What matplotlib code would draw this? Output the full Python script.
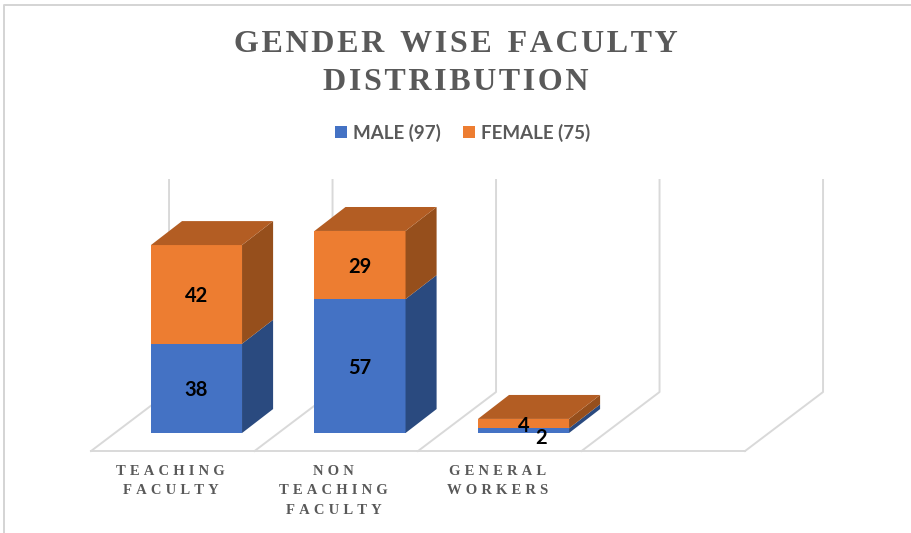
import matplotlib
matplotlib.use("Agg")
import matplotlib.pyplot as plt
from matplotlib.lines import Line2D
from matplotlib.patches import Polygon

HAIR = "\u200a"
THIN = "\u2009"

categories = ["TEACHING\nFACULTY", "NON\nTEACHING\nFACULTY", "GENERAL\nWORKERS"]
male = [38, 57, 2]
female = [42, 29, 4]
legend_labels = ["MALE (97)", "FEMALE (75)"]
title = "GENDER WISE FACULTY\nDISTRIBUTION"

def spaced(s, gap):
    # matplotlib has no letter spacing, so put thin spaces between the letters
    return "\n".join(gap.join(line) for line in s.split("\n"))

BLUE, BLUE_SIDE = "#4472C4", "#2A4A7F"
ORANGE, ORANGE_SIDE, ORANGE_TOP = "#ED7D31", "#964F1C", "#B35D23"
GRID = "#D9D9D9"
TEXT = "#595959"

fig = plt.figure(figsize=(9.11, 5.33), dpi=100)
ax = fig.add_axes([0, 0, 1, 1])
ax.set_xlim(-1.2018, 4.370)
ax.set_ylim(-42.55, 184.3)
ax.axis("off")

# one category is 163.5 px wide, one unit is 2.35 px high
bar_w = 0.557
depth_x, depth_y = 0.19, 10.2

# floor and back wall
floor_y, back_y, wall_top = -7.66, 17.45, 107.7
for i in range(5):
    x0 = i - 0.645
    x1 = i - 0.168
    ax.plot([x0, x1, x1], [floor_y, back_y, wall_top], color=GRID, lw=1.4, zorder=1)
ax.plot([-0.645, 3.355], [floor_y, floor_y], color=GRID, lw=1.4, zorder=1)

# stacked bars, front faces from the library and the 3d sides added by hand
xs = list(range(len(male)))
ax.bar(xs, male, bar_w, color=BLUE, label=legend_labels[0], zorder=3)
ax.bar(xs, female, bar_w, bottom=male, color=ORANGE, label=legend_labels[1], zorder=3)

for x, m, f in zip(xs, male, female):
    r = x + bar_w / 2
    l = x - bar_w / 2
    t = m + f
    ax.add_patch(Polygon([(r, 0), (r + depth_x, depth_y), (r + depth_x, m + depth_y), (r, m)],
                         color=BLUE_SIDE, lw=0, zorder=3))
    ax.add_patch(Polygon([(r, m), (r + depth_x, m + depth_y), (r + depth_x, t + depth_y), (r, t)],
                         color=ORANGE_SIDE, lw=0, zorder=3))
    ax.add_patch(Polygon([(l, t), (l + depth_x, t + depth_y), (r + depth_x, t + depth_y), (r, t)],
                         color=ORANGE_TOP, lw=0, zorder=3))

# value labels, the 2 sits off to the side in the original
for x, m, f in zip(xs, male, female):
    off = (13, -5) if m < 5 else (0, -1.5)
    ax.annotate(str(m), (x, m / 2), xytext=off, textcoords="offset points", ha="center", va="center",
                family="Lato", fontweight="bold", fontsize=14.5, color="black", zorder=5)
    ax.annotate(str(f), (x, m + f / 2), xytext=(0, -1.5), textcoords="offset points", ha="center", va="center",
                family="Lato", fontweight="bold", fontsize=14.5, color="black", zorder=5)

# category labels
for x, c in zip(xs, categories):
    ax.text(x - 0.16, -13.6, spaced(c, THIN + HAIR), ha="center", va="top", linespacing=1.65,
            family=["Liberation Serif", "DejaVu Sans"], fontweight="bold", fontsize=10.5, color=TEXT)

fig.text(0.5, 0.943, spaced(title, HAIR).replace(" ", " " + HAIR), ha="center", va="top", linespacing=1.4,
         family=["Liberation Serif", "DejaVu Sans"], fontweight="bold", fontsize=23, color=TEXT)

leg = ax.legend(loc="center", bbox_to_anchor=(0.5077, 0.751), ncol=2, frameon=False,
                handlelength=0.6, handleheight=0.6, handletextpad=0.32, columnspacing=1.22,
                prop={"family": "Lato", "weight": "bold", "size": 13.5})
for t in leg.get_texts():
    t.set_color(TEXT)

# thin frame left over from the screenshot, top and left only
fig.add_artist(Line2D([4 / 911, 4 / 911, 1], [0, 1 - 5 / 533, 1 - 5 / 533], color="#D4D4D4", lw=1.4))

fig.savefig("out.png", dpi=100)
